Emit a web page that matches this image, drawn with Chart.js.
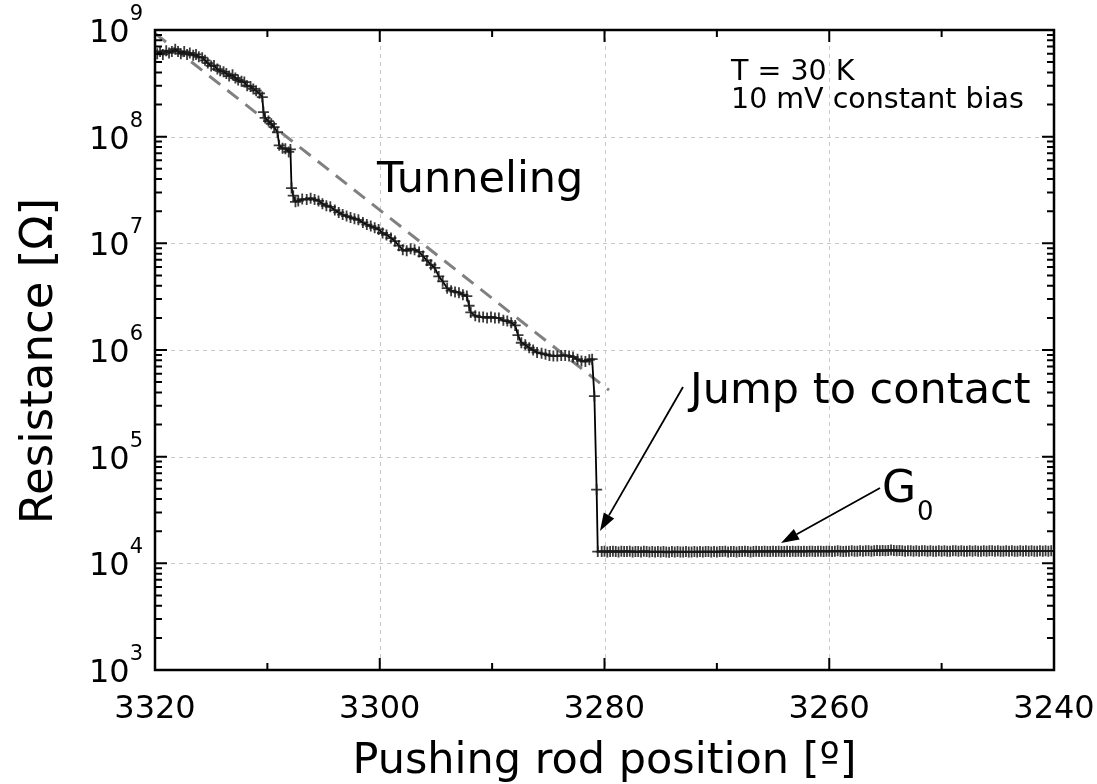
<!DOCTYPE html>
<html>
<head>
<meta charset="utf-8">
<script src="https://cdn.jsdelivr.net/npm/chart.js@4.4.1/dist/chart.umd.min.js"></script>
<style>
  html, body { margin: 0; padding: 0; background: #fff; }
  #wrap { width: 1097px; height: 784px; }
</style>
</head>
<body>
<div id="wrap"><canvas id="chart" width="1097" height="784"></canvas></div>
<script>
// tunneling regime, pushing rod position [deg] and resistance [Ohm]
const tunnelPos = [
    3319.8, 3319.55, 3319.3, 3319.0, 3318.75, 3318.5, 3318.2, 3317.95, 3317.7, 3317.4,
    3317.15, 3316.9, 3316.6, 3316.35, 3316.1, 3315.8, 3315.55, 3315.3, 3315.0, 3314.75,
    3314.45, 3314.2, 3313.9, 3313.65, 3313.4, 3313.1, 3312.85, 3312.6, 3312.3, 3312.05,
    3311.8, 3311.5, 3311.25, 3311.0, 3310.7, 3310.45, 3310.35, 3310.2, 3309.9, 3309.65,
    3309.4, 3309.1, 3308.95, 3308.65, 3308.4, 3308.1, 3307.95, 3307.85, 3307.7, 3307.5,
    3307.25, 3306.9, 3306.5, 3306.15, 3305.8, 3305.45, 3305.1, 3304.75, 3304.4, 3304.0,
    3303.65, 3303.3, 3302.95, 3302.6, 3302.25, 3301.9, 3301.5, 3301.15, 3300.8, 3300.45,
    3300.1, 3299.75, 3299.4, 3299.0, 3298.65, 3298.3, 3297.95, 3297.6, 3297.25, 3296.9,
    3296.5, 3296.15, 3295.8, 3295.45, 3295.1, 3294.75, 3294.4, 3294.0, 3293.65, 3293.3,
    3292.95, 3292.6, 3292.25, 3292.05, 3291.9, 3291.5, 3291.15, 3290.8, 3290.45, 3290.1,
    3289.75, 3289.4, 3289.0, 3288.65, 3288.3, 3287.95, 3287.7, 3287.4, 3287.05, 3286.7,
    3286.35, 3286.0, 3285.6, 3285.25, 3284.9, 3284.55, 3284.2, 3283.85, 3283.5, 3283.15,
    3282.8, 3282.4, 3282.05, 3281.7, 3281.35, 3281.1, 3280.9, 3280.7, 3280.6
];
const tunnelRes = [
    6.0e8, 6.3e8, 5.9e8, 6.4e8, 6.1e8, 6.3e8, 6.6e8, 6.3e8, 6.0e8, 6.3e8,
    5.9e8, 6.1e8, 5.8e8, 5.9e8, 5.6e8, 5.5e8, 5.2e8, 4.9e8, 4.6e8, 4.65e8,
    4.3e8, 4.15e8, 4.05e8, 3.9e8, 3.7e8, 3.8e8, 3.55e8, 3.4e8, 3.3e8, 3.25e8,
    3.0e8, 2.95e8, 2.8e8, 2.7e8, 2.55e8, 2.35e8, 1.7e8, 1.5e8, 1.4e8, 1.32e8,
    1.23e8, 1.1e8, 8.3e7, 7.8e7, 7.7e7, 7.2e7, 7.6e7, 3.3e7, 2.8e7, 2.45e7,
    2.5e7, 2.6e7, 2.57e7, 2.65e7, 2.57e7, 2.5e7, 2.35e7, 2.25e7, 2.2e7, 2.05e7,
    1.95e7, 1.86e7, 1.8e7, 1.75e7, 1.7e7, 1.66e7, 1.57e7, 1.5e7, 1.45e7, 1.4e7,
    1.35e7, 1.25e7, 1.2e7, 1.12e7, 1.05e7, 9.5e6, 8.7e6, 8.5e6, 8.9e6, 8.7e6,
    8.3e6, 7.6e6, 6.9e6, 6.3e6, 5.9e6, 4.9e6, 4.4e6, 3.8e6, 3.6e6, 3.5e6,
    3.45e6, 3.3e6, 3.2e6, 2.6e6, 2.25e6, 2.1e6, 2.04e6, 2.04e6, 2.0e6, 2.04e6,
    2.0e6, 2.0e6, 1.9e6, 1.87e6, 1.8e6, 1.7e6, 1.38e6, 1.17e6, 1.12e6, 1.05e6,
    1.0e6, 9.5e5, 9.3e5, 9.1e5, 8.9e5, 8.8e5, 8.8e5, 8.9e5, 8.9e5, 8.8e5,
    8.6e5, 8.2e5, 7.9e5, 7.8e5, 8.1e5, 8.2e5, 3.7e5, 4.9e4, 1.29e4
];

// contact regime (one conductance quantum)
const contactPos = [
    3280.25, 3280.0, 3279.75, 3279.5, 3279.25, 3279.0, 3278.75, 3278.5, 3278.25, 3278.0,
    3277.75, 3277.5, 3277.25, 3277.0, 3276.75, 3276.5, 3276.25, 3276.0, 3275.75, 3275.5,
    3275.25, 3275.0, 3274.75, 3274.5, 3274.25, 3274.0, 3273.75, 3273.5, 3273.25, 3273.0,
    3272.75, 3272.5, 3272.25, 3272.0, 3271.75, 3271.5, 3271.25, 3271.0, 3270.75, 3270.5,
    3270.25, 3270.0, 3269.75, 3269.5, 3269.25, 3269.0, 3268.75, 3268.5, 3268.25, 3268.0,
    3267.75, 3267.5, 3267.25, 3267.0, 3266.75, 3266.5, 3266.25, 3266.0, 3265.75, 3265.5,
    3265.25, 3265.0, 3264.75, 3264.5, 3264.25, 3264.0, 3263.75, 3263.5, 3263.25, 3263.0,
    3262.75, 3262.5, 3262.25, 3262.0, 3261.75, 3261.5, 3261.25, 3261.0, 3260.75, 3260.5,
    3260.25, 3260.0, 3259.75, 3259.5, 3259.25, 3259.0, 3258.75, 3258.5, 3258.25, 3258.0,
    3257.75, 3257.5, 3257.25, 3257.0, 3256.75, 3256.5, 3256.25, 3256.0, 3255.75, 3255.5,
    3255.25, 3255.0, 3254.75, 3254.5, 3254.25, 3254.0, 3253.75, 3253.5, 3253.25, 3253.0,
    3252.75, 3252.5, 3252.25, 3252.0, 3251.75, 3251.5, 3251.25, 3251.0, 3250.75, 3250.5,
    3250.25, 3250.0, 3249.75, 3249.5, 3249.25, 3249.0, 3248.75, 3248.5, 3248.25, 3248.0,
    3247.75, 3247.5, 3247.25, 3247.0, 3246.75, 3246.5, 3246.25, 3246.0, 3245.75, 3245.5,
    3245.25, 3245.0, 3244.75, 3244.5, 3244.25, 3244.0, 3243.75, 3243.5, 3243.25, 3243.0,
    3242.75, 3242.5, 3242.25, 3242.0, 3241.75, 3241.5, 3241.25, 3241.0, 3240.75, 3240.5,
    3240.25, 3240.0
];
const contactRes = [
    1.29e4, 1.30e4, 1.28e4, 1.29e4, 1.30e4, 1.29e4, 1.28e4, 1.30e4, 1.29e4, 1.29e4,
    1.30e4, 1.28e4, 1.29e4, 1.29e4, 1.28e4, 1.30e4, 1.29e4, 1.28e4, 1.29e4, 1.28e4,
    1.29e4, 1.28e4, 1.29e4, 1.28e4, 1.27e4, 1.29e4, 1.28e4, 1.29e4, 1.28e4, 1.28e4,
    1.29e4, 1.28e4, 1.28e4, 1.29e4, 1.28e4, 1.29e4, 1.28e4, 1.29e4, 1.29e4, 1.28e4,
    1.29e4, 1.28e4, 1.29e4, 1.29e4, 1.30e4, 1.28e4, 1.29e4, 1.29e4, 1.28e4, 1.29e4,
    1.29e4, 1.30e4, 1.29e4, 1.28e4, 1.29e4, 1.30e4, 1.29e4, 1.29e4, 1.30e4, 1.29e4,
    1.29e4, 1.30e4, 1.29e4, 1.30e4, 1.29e4, 1.29e4, 1.30e4, 1.29e4, 1.30e4, 1.29e4,
    1.30e4, 1.29e4, 1.30e4, 1.29e4, 1.30e4, 1.30e4, 1.29e4, 1.30e4, 1.30e4, 1.29e4,
    1.30e4, 1.30e4, 1.29e4, 1.30e4, 1.31e4, 1.30e4, 1.29e4, 1.30e4, 1.30e4, 1.31e4,
    1.30e4, 1.30e4, 1.31e4, 1.30e4, 1.31e4, 1.31e4, 1.30e4, 1.31e4, 1.32e4, 1.31e4,
    1.32e4, 1.31e4, 1.32e4, 1.33e4, 1.32e4, 1.31e4, 1.32e4, 1.31e4, 1.30e4, 1.31e4,
    1.31e4, 1.30e4, 1.31e4, 1.30e4, 1.31e4, 1.31e4, 1.30e4, 1.31e4, 1.30e4, 1.30e4,
    1.31e4, 1.30e4, 1.31e4, 1.30e4, 1.30e4, 1.31e4, 1.31e4, 1.30e4, 1.31e4, 1.30e4,
    1.30e4, 1.31e4, 1.30e4, 1.31e4, 1.30e4, 1.30e4, 1.31e4, 1.30e4, 1.31e4, 1.31e4,
    1.30e4, 1.31e4, 1.30e4, 1.30e4, 1.31e4, 1.30e4, 1.31e4, 1.30e4, 1.30e4, 1.31e4,
    1.30e4, 1.31e4, 1.30e4, 1.31e4, 1.30e4, 1.30e4, 1.31e4, 1.30e4, 1.31e4, 1.30e4,
    1.31e4, 1.30e4
];

// exponential guide to the eye
const guidePos = [3320, 3279.6];
const guideRes = [9.3e8, 4.2e5];

const xMajorTicks = [3320, 3300, 3280, 3260, 3240];
const xTickLabels = ['3320', '3300', '3280', '3260', '3240'];
const xMinorTicks = [3310, 3290, 3270, 3250];
const yExponents = [3, 4, 5, 6, 7, 8, 9];

const FONT = '"DejaVu Sans", Verdana, sans-serif';

const measured = tunnelPos.map((p, i) => ({ x: p, y: tunnelRes[i] }))
    .concat(contactPos.map((p, i) => ({ x: p, y: contactRes[i] })));
const guide = guidePos.map((p, i) => ({ x: p, y: guideRes[i] }));

function arrow(ctx, x0, y0, x1, y1) {
    const ang = Math.atan2(y1 - y0, x1 - x0);
    const len = 18, half = 6;
    const bx = x1 - len * Math.cos(ang), by = y1 - len * Math.sin(ang);
    ctx.beginPath();
    ctx.moveTo(x0, y0);
    ctx.lineTo(bx, by);
    ctx.stroke();
    ctx.beginPath();
    ctx.moveTo(x1, y1);
    ctx.lineTo(bx + half * Math.sin(ang), by - half * Math.cos(ang));
    ctx.lineTo(bx - half * Math.sin(ang), by + half * Math.cos(ang));
    ctx.closePath();
    ctx.fill();
}

const framePlugin = {
    id: 'frame',
    beforeDatasetsDraw(chart) {
        const { ctx, chartArea: a, scales: { x, y } } = chart;
        ctx.save();
        ctx.strokeStyle = '#c8c8c8';
        ctx.lineWidth = 1;
        ctx.setLineDash([4, 4]);
        xMajorTicks.slice(1, -1).forEach(v => {
            const px = Math.round(x.getPixelForValue(v)) + 0.5;
            ctx.beginPath();
            ctx.moveTo(px, a.top);
            ctx.lineTo(px, a.bottom);
            ctx.stroke();
        });
        yExponents.slice(1, -1).forEach(e => {
            const py = Math.round(y.getPixelForValue(Math.pow(10, e))) + 0.5;
            ctx.beginPath();
            ctx.moveTo(a.left, py);
            ctx.lineTo(a.right, py);
            ctx.stroke();
        });
        ctx.restore();
    },
    afterDraw(chart) {
        const { ctx, chartArea: a, scales: { x, y } } = chart;
        ctx.save();
        ctx.strokeStyle = '#000';
        ctx.fillStyle = '#000';

        // ticks, pointing inwards on all four sides
        ctx.lineWidth = 2;
        const tick = (px, len) => {
            ctx.beginPath();
            ctx.moveTo(px, a.bottom); ctx.lineTo(px, a.bottom - len);
            ctx.moveTo(px, a.top); ctx.lineTo(px, a.top + len);
            ctx.stroke();
        };
        xMajorTicks.forEach(v => tick(x.getPixelForValue(v), 12));
        xMinorTicks.forEach(v => tick(x.getPixelForValue(v), 7));
        const ytick = (py, len) => {
            ctx.beginPath();
            ctx.moveTo(a.left, py); ctx.lineTo(a.left + len, py);
            ctx.moveTo(a.right, py); ctx.lineTo(a.right - len, py);
            ctx.stroke();
        };
        yExponents.forEach((e, i) => {
            const dec = Math.pow(10, e);
            ytick(y.getPixelForValue(dec), 12);
            if (i < yExponents.length - 1) {
                for (let k = 2; k <= 9; k++) ytick(y.getPixelForValue(k * dec), 7);
            }
        });

        // frame
        ctx.lineWidth = 2.5;
        ctx.strokeRect(a.left, a.top, a.right - a.left, a.bottom - a.top);

        // x tick labels
        ctx.font = '32px ' + FONT;
        ctx.textAlign = 'center';
        ctx.textBaseline = 'alphabetic';
        xMajorTicks.forEach((v, i) => ctx.fillText(xTickLabels[i], x.getPixelForValue(v), 718));

        // y tick labels as 10^n
        yExponents.forEach(e => {
            const py = y.getPixelForValue(Math.pow(10, e));
            ctx.font = '21px ' + FONT;
            ctx.textAlign = 'right';
            const ew = ctx.measureText(String(e)).width;
            ctx.fillText(String(e), 143, py - 10);
            ctx.font = '32px ' + FONT;
            ctx.fillText('10', 143 - ew, py + 12);
        });

        // axis titles
        ctx.font = '43px ' + FONT;
        ctx.textAlign = 'center';
        ctx.fillText('Pushing rod position [º]', (a.left + a.right) / 2, 773);
        ctx.save();
        ctx.translate(52, 361);
        ctx.rotate(-Math.PI / 2);
        ctx.font = '45px ' + FONT;
        ctx.fillText('Resistance [Ω]', 0, 0);
        ctx.restore();

        // annotations
        ctx.textAlign = 'left';
        ctx.font = '28.5px ' + FONT;
        ctx.fillText('T = 30 K', 731, 80);
        ctx.fillText('10 mV constant bias', 731, 108);
        ctx.font = '43px ' + FONT;
        ctx.fillText('Tunneling', 377, 192);
        ctx.fillText('Jump to contact', 690, 403);
        ctx.font = '44px ' + FONT;
        ctx.fillText('G', 882, 502);
        ctx.font = '26px ' + FONT;
        ctx.fillText('0', 917, 520);

        ctx.lineWidth = 1.8;
        arrow(ctx, 683, 387, 600, 531);
        arrow(ctx, 880, 488, 781, 543);
        ctx.restore();
    }
};

new Chart(document.getElementById('chart'), {
    type: 'scatter',
    data: {
        datasets: [
            {
                label: 'guide',
                data: guide,
                showLine: true,
                borderColor: 'rgba(128, 128, 128, 1)',
                borderWidth: 3,
                borderDash: [14, 9],
                pointRadius: 0,
                order: 2
            },
            {
                label: 'R',
                data: measured,
                showLine: true,
                borderColor: '#000',
                borderWidth: 1.8,
                pointStyle: 'cross',
                pointRadius: 5.5,
                pointBorderWidth: 1.8,
                pointBorderColor: 'rgba(25, 25, 25, 0.85)',
                pointBackgroundColor: '#000',
                order: 1
            }
        ]
    },
    options: {
        responsive: false,
        animation: false,
        layout: { padding: { left: 155, right: 43, top: 30, bottom: 114 } },
        plugins: {
            legend: { display: false },
            tooltip: { enabled: false }
        },
        scales: {
            x: {
                type: 'linear',
                min: 3240,
                max: 3320,
                reverse: true,
                display: false
            },
            y: {
                type: 'logarithmic',
                min: 1e3,
                max: 1e9,
                display: false
            }
        }
    },
    plugins: [framePlugin]
});
</script>
</body>
</html>
